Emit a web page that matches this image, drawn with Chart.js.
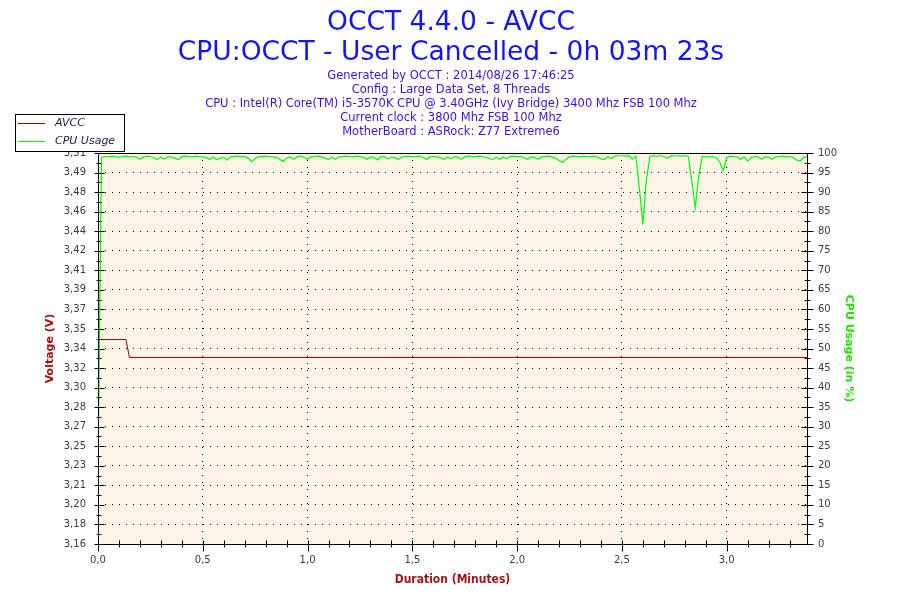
<!DOCTYPE html>
<html>
<head>
<meta charset="utf-8">
<title>OCCT 4.4.0 - AVCC</title>
<script src="https://cdn.jsdelivr.net/npm/chart.js@4.4.1/dist/chart.umd.min.js"></script>
<style>
  html, body { margin: 0; padding: 0; background: #fff; }
  #wrap { width: 900px; height: 600px; }
</style>
</head>
<body>
<div id="wrap"><canvas id="occt" width="900" height="600"></canvas></div>
<script>
const titleLines = ['OCCT 4.4.0 - AVCC', 'CPU:OCCT - User Cancelled - 0h 03m 23s'];
const infoLines = [
  'Generated by OCCT : 2014/08/26 17:46:25',
  'Config : Large Data Set, 8 Threads',
  'CPU : Intel(R) Core(TM) i5-3570K CPU @ 3.40GHz (Ivy Bridge) 3400 Mhz FSB 100 Mhz',
  'Current clock : 3800 Mhz FSB 100 Mhz',
  'MotherBoard : ASRock: Z77 Extreme6'
];

// AVCC voltage, samples in seconds
const voltSeconds = [0, 8, 9, 203];
const voltValues = [3.343, 3.343, 3.327, 3.327];

// CPU usage in %, one sample per second from 0 s
const cpuUsage = [
  20.5, 98.9, 99.1, 99.0, 99.2, 99.1, 98.9, 99.1, 99.2, 99.0,
  99.1, 98.9, 98.4, 99.0, 99.2, 99.1, 98.8, 98.3, 98.9, 98.4,
  99.1, 99.0, 98.7, 98.3, 99.0, 99.2, 99.1, 99.0, 99.2, 99.1,
  99.0, 98.8, 98.4, 99.0, 98.3, 98.7, 98.9, 98.2, 99.0, 99.1,
  99.2, 99.0, 99.1, 98.7, 97.8, 98.6, 99.1, 99.0, 99.2, 99.1,
  99.0, 98.9, 98.4, 97.8, 98.7, 99.0, 98.4, 99.0, 99.2, 98.9,
  98.4, 99.0, 99.1, 99.2, 99.0, 98.7, 98.3, 98.9, 98.4, 99.0,
  99.1, 99.2, 99.1, 99.0, 99.2, 99.1, 98.9, 98.4, 99.0, 98.9,
  98.3, 99.0, 99.1, 98.5, 98.9, 98.8, 98.3, 99.0, 99.1, 99.2,
  99.0, 99.1, 99.2, 98.9, 98.4, 99.0, 99.1, 99.0, 98.8, 98.4,
  99.0, 98.5, 99.1, 98.9, 98.4, 99.0, 99.2, 99.1, 99.0, 99.2,
  99.1, 98.9, 98.6, 98.3, 98.9, 98.4, 99.0, 98.5, 99.1, 99.2,
  99.0, 99.1, 98.8, 98.4, 99.0, 98.9, 98.4, 99.0, 99.1, 99.2,
  99.0, 98.7, 98.1, 97.6, 98.4, 99.0, 99.2, 99.1, 99.0, 99.2,
  99.1, 99.0, 99.2, 98.9, 98.5, 98.4, 99.0, 98.6, 99.2, 99.3,
  99.3, 99.2, 99.3, 98.4, 99.2, 91.0, 81.7, 93.0, 99.1, 99.3,
  99.2, 99.3, 99.1, 98.7, 99.2, 99.3, 99.3, 99.2, 99.3, 99.1,
  93.0, 86.0, 94.0, 99.1, 99.0, 99.0, 99.1, 98.8, 97.7, 95.5,
  98.8, 99.2, 99.1, 99.0, 98.4, 99.0, 97.9, 98.8, 99.1, 99.0,
  98.4, 99.0, 98.9, 98.4, 99.0, 99.1, 99.2, 99.0, 99.1, 98.9,
  98.2, 97.9, 98.9, 99.1
];

const voltMin = 3.16;
const voltMax = 3.51;
const voltLabels = ['3,16', '3,18', '3,20', '3,21', '3,23', '3,25', '3,27', '3,28', '3,30', '3,32', '3,34',
  '3,35', '3,37', '3,39', '3,41', '3,42', '3,44', '3,46', '3,48', '3,49', '3,51'];
const durationMax = 203 / 60;

const tickFont = { family: '"DejaVu Sans", sans-serif', size: 10 };
const tickColor = '#3c3c3c';

// background, header texts, frame, tick marks and the boxed legend
const occtDecor = {
  id: 'occtDecor',
  beforeDraw(chart) {
    const { ctx, chartArea: a } = chart;
    ctx.save();
    ctx.fillStyle = '#ffffff';
    ctx.fillRect(0, 0, chart.width, chart.height);
    ctx.fillStyle = '#fcf5e8';
    ctx.fillRect(a.left, a.top, a.right - a.left, a.bottom - a.top);

    ctx.textAlign = 'center';
    ctx.textBaseline = 'alphabetic';
    ctx.fillStyle = '#1414f4';
    ctx.font = '26.5px "DejaVu Sans", sans-serif';
    ctx.fillText(titleLines[0], 451, 30);
    ctx.fillText(titleLines[1], 451, 60);

    ctx.textBaseline = 'middle';
    ctx.font = '11.5px "DejaVu Sans", sans-serif';
    ctx.fillStyle = '#3a10e8';
    infoLines.forEach((t, i) => ctx.fillText(t, 451, 76.5 + i * 13.8));
    ctx.restore();
  },
  afterDraw(chart) {
    const { ctx, chartArea: a, scales } = chart;
    ctx.save();
    ctx.strokeStyle = '#000';
    ctx.lineWidth = 1;
    ctx.strokeRect(Math.round(a.left) + 0.5, Math.round(a.top) + 0.5,
      Math.round(a.right - a.left), Math.round(a.bottom - a.top));

    const line = (x1, y1, x2, y2) => {
      ctx.beginPath();
      ctx.moveTo(x1, y1);
      ctx.lineTo(x2, y2);
      ctx.stroke();
    };

    // x axis ticks every 0.1 min, long ones on 0.5
    const xs = scales.x;
    const yb = Math.round(a.bottom) + 0.5;
    for (let k = 0; k / 10 <= durationMax; k++) {
      const px = Math.round(xs.getPixelForValue(k / 10)) + 0.5;
      if (k % 5 === 0) line(px, yb - 4, px, yb + 7);
      else line(px, yb - 4, px, yb + 3);
    }

    // left voltage axis
    const yv = scales.yVolt;
    const xl = Math.round(a.left) + 0.5;
    const vStep = (voltMax - voltMin) / (voltLabels.length - 1);
    for (let i = 0; i < voltLabels.length; i++) {
      const py = Math.round(yv.getPixelForValue(voltMin + i * vStep)) + 0.5;
      line(xl - 4, py, xl + 6, py);
      if (i < voltLabels.length - 1) {
        const pm = Math.round(yv.getPixelForValue(voltMin + (i + 0.5) * vStep)) + 0.5;
        line(xl - 2, pm, xl + 3, pm);
      }
    }

    // right cpu axis
    const yc = scales.yCpu;
    const xr = Math.round(a.right) + 0.5;
    for (let p = 0; p <= 100; p += 2.5) {
      const py = Math.round(yc.getPixelForValue(p)) + 0.5;
      if (p % 5 === 0) line(xr - 6, py, xr + 6, py);
      else line(xr - 3, py, xr + 3, py);
    }

    // legend box
    ctx.fillStyle = '#ffffff';
    ctx.fillRect(15.5, 114.5, 109, 37);
    ctx.strokeRect(15.5, 114.5, 109, 37);
    ctx.font = 'italic 11px "DejaVu Sans", sans-serif';
    ctx.textAlign = 'left';
    ctx.textBaseline = 'middle';
    chart.data.datasets.forEach((ds, i) => {
      const ly = 123.5 + i * 18;
      ctx.strokeStyle = ds.borderColor;
      line(18, ly, 45, ly);
      ctx.fillStyle = '#1c1c3c';
      ctx.fillText(ds.label, 55, ly);
    });
    ctx.restore();
  }
};

new Chart(document.getElementById('occt'), {
  type: 'line',
  data: {
    datasets: [
      {
        label: 'AVCC',
        data: voltSeconds.map((s, i) => ({ x: s / 60, y: voltValues[i] })),
        borderColor: '#990000',
        borderWidth: 1,
        pointRadius: 0,
        tension: 0,
        yAxisID: 'yVolt'
      },
      {
        label: 'CPU Usage',
        data: cpuUsage.map((v, i) => ({ x: i / 60, y: v })),
        borderColor: '#00ff00',
        borderWidth: 1.2,
        pointRadius: 0,
        tension: 0,
        yAxisID: 'yCpu'
      }
    ]
  },
  options: {
    responsive: false,
    animation: false,
    devicePixelRatio: 1,
    layout: { padding: { top: 153, left: 0, right: 0, bottom: 0 } },
    plugins: {
      legend: { display: false },
      tooltip: { enabled: false },
      title: { display: false }
    },
    scales: {
      x: {
        type: 'linear',
        min: 0,
        max: durationMax,
        afterFit: s => { s.height = 56; },
        ticks: {
          stepSize: 0.5,
          includeBounds: false,
          autoSkip: false,
          maxRotation: 0,
          padding: 10,
          font: tickFont,
          color: tickColor,
          callback: v => v.toFixed(1).replace('.', ',')
        },
        grid: {
          drawTicks: false,
          lineWidth: 1,
          color: c => (c.tick && c.tick.value > 0 ? '#000' : 'rgba(0,0,0,0)')
        },
        border: { display: false, dash: [1, 6] },
        title: {
          display: true,
          text: 'Duration (Minutes)',
          color: '#a31515',
          font: { family: '"DejaVu Sans Condensed", "Liberation Sans Narrow", sans-serif', size: 12, weight: 'bold' },
          padding: { top: 0, bottom: 13 }
        }
      },
      yVolt: {
        position: 'left',
        min: voltMin,
        max: voltMax,
        afterBuildTicks: s => {
          s.ticks = voltLabels.map((l, i) => ({ value: voltMin + (voltMax - voltMin) * i / (voltLabels.length - 1) }));
        },
        afterFit: s => { s.width = 98; },
        ticks: {
          autoSkip: false,
          padding: 12,
          font: tickFont,
          color: tickColor,
          callback: (v, i) => voltLabels[i]
        },
        grid: {
          drawTicks: false,
          lineWidth: 1,
          color: c => (c.index > 0 && c.index < voltLabels.length - 1 ? '#000' : 'rgba(0,0,0,0)')
        },
        border: { display: false, dash: [1, 6] },
        title: {
          display: true,
          text: 'Voltage (V)',
          color: '#a31515',
          font: { family: '"DejaVu Sans", sans-serif', size: 11, weight: 'bold' },
          padding: { top: 44, bottom: 0 }
        }
      },
      yCpu: {
        position: 'right',
        min: 0,
        max: 100,
        afterFit: s => { s.width = 93; },
        ticks: {
          stepSize: 5,
          autoSkip: false,
          padding: 11,
          font: tickFont,
          color: tickColor
        },
        grid: { display: false, drawOnChartArea: false, drawTicks: false },
        border: { display: false },
        title: {
          display: true,
          text: 'CPU Usage (in %)',
          color: '#22e000',
          font: { family: '"DejaVu Sans", sans-serif', size: 11, weight: 'bold' },
          padding: { top: 45, bottom: 0 }
        }
      }
    }
  },
  plugins: [occtDecor]
});
</script>
</body>
</html>
